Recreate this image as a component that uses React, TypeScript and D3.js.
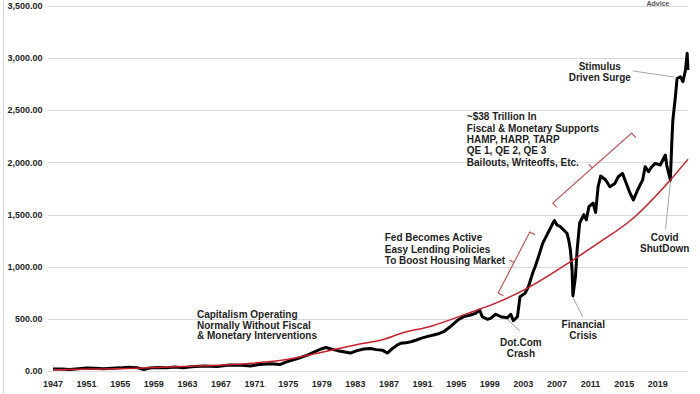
import React from 'react';
import * as d3 from 'd3';

const W = 700;
const H = 394;

const yTicks = [0, 500, 1000, 1500, 2000, 2500, 3000, 3500];
const xTickYears = [1947, 1951, 1955, 1959, 1963, 1967, 1971, 1975, 1979, 1983, 1987, 1991, 1995, 1999, 2003, 2007, 2011, 2015, 2019];

const seriesYears = [
  1947.0, 1948.0, 1949.0, 1950.0, 1951.0, 1952.0, 1953.0, 1954.0, 1955.0, 1956.0, 1957.0, 1957.8, 1958.5, 1959.5,
  1960.5, 1961.5, 1962.5, 1963.5, 1965.0, 1966.5, 1968.0, 1969.5, 1970.5, 1971.5, 1973.0, 1974.0, 1974.8, 1975.5,
  1976.5, 1977.3, 1978.2, 1978.9, 1979.5, 1980.1, 1980.9, 1981.6, 1982.4, 1983.2, 1984.0, 1984.8, 1985.5, 1986.2,
  1986.8, 1987.4, 1988.0, 1988.4, 1989.0, 1989.6, 1990.2, 1990.8, 1991.5, 1992.3, 1993.0, 1993.5, 1994.3, 1995.2,
  1995.9, 1996.7, 1997.3, 1997.8, 1998.1, 1998.7, 1999.1, 1999.7, 2000.3, 2001.1, 2001.5, 2001.8, 2002.3, 2002.6,
  2003.2, 2003.6, 2004.1, 2004.4, 2004.8, 2005.3, 2005.9, 2006.5, 2006.7, 2007.0, 2007.4, 2007.8, 2008.2, 2008.4,
  2008.6, 2008.8, 2008.9, 2009.2, 2009.4, 2009.7, 2010.2, 2010.5, 2010.8, 2011.3, 2011.6, 2011.9, 2012.2, 2012.8,
  2013.3, 2013.9, 2014.3, 2014.8, 2015.1, 2015.7, 2016.1, 2016.6, 2017.2, 2017.5, 2017.9, 2018.3, 2018.7, 2019.3,
  2019.9, 2020.1, 2020.5, 2020.7, 2020.8, 2021.1, 2021.3, 2021.7, 2022.0, 2022.3, 2022.5, 2022.6,
];
const seriesValues = [
  18, 20, 14, 22, 28, 26, 22, 27, 30, 36, 32, 15, 28, 34,
  30, 38, 30, 40, 48, 42, 58, 55, 48, 62, 70, 62, 88, 105,
  130, 153, 185, 211, 225, 211, 195, 185, 172, 195, 211, 215, 205, 200,
  172, 215, 250, 265, 270, 281, 295, 313, 330, 345, 360, 377, 425, 489,
  521, 537, 553, 585, 521, 496, 505, 544, 521, 511, 544, 482, 521, 713,
  745, 808, 937, 1000, 1096, 1224, 1320, 1416, 1442, 1400, 1384, 1352, 1320, 1256,
  1160, 968, 722, 904, 1160, 1419, 1500, 1450, 1575, 1610, 1520, 1767, 1870, 1832,
  1767, 1799, 1863, 1895, 1832, 1704, 1640, 1736, 1832, 1959, 1911, 1959, 1991, 1975,
  2071, 1959, 1832, 2247, 2407, 2631, 2805, 2821, 2774, 2886, 3046, 2886,
];

const trendYears = [1947, 1952, 1956, 1960, 1965, 1970, 1975, 1979, 1983, 1986.4, 1988.4, 1992, 1996.3, 2000, 2003.6, 2008.9, 2012, 2016, 2020.5, 2022.6];
const trendValues = [12, 18, 25, 35, 50, 70, 112, 180, 250, 304, 360, 430, 550, 660, 800, 1064, 1230, 1460, 1832, 2030];

type Note = { lines: string[]; year: number; value: number; anchor: 'start' | 'middle'; lh: number };
const notes: Note[] = [
  { lines: ['Capitalism Operating', 'Normally Without Fiscal', '& Monetary Interventions'], year: 1964.14, value: 508, anchor: 'start', lh: 10.5 },
  { lines: ['Fed Becomes Active', 'Easy Lending Policies', 'To Boost Housing Market'], year: 1986.5, value: 1245, anchor: 'start', lh: 11.5 },
  { lines: ['~$38 Trillion In', 'Fiscal & Monetary Supports', 'HAMP, HARP, TARP', 'QE 1, QE 2, QE 3', 'Bailouts, Writeoffs, Etc.'], year: 1996.27, value: 2405, anchor: 'start', lh: 11.4 },
  { lines: ['Stimulus', 'Driven Surge'], year: 2012.1, value: 2891, anchor: 'middle', lh: 11.7 },
  { lines: ['Covid', 'ShutDown'], year: 2019.83, value: 1251, anchor: 'middle', lh: 11 },
  { lines: ['Financial', 'Crisis'], year: 2010.13, value: 417, anchor: 'middle', lh: 11 },
  { lines: ['Dot.Com', 'Crash'], year: 2002.7, value: 238, anchor: 'middle', lh: 10.5 },
];

const leaders: [number, number, number, number][] = [
  [2016.02, 2877, 2021.0, 2819],
  [2020.53, 1831, 2019.93, 1362],
  [2008.88, 710, 2010.07, 518],
  [2000.79, 518, 2002.58, 384],
];

const brackets: [number, number, number, number][] = [
  [2000.0, 748, 2003.77, 1333],
  [2006.5, 1611, 2015.9, 2282],
];

const FONT = '"Liberation Sans", Arial, Helvetica, sans-serif';

function bracketPath(x1: number, y1: number, x2: number, y2: number, tick = 6, notch = 5) {
  const dx = x2 - x1, dy = y2 - y1;
  const L = Math.hypot(dx, dy);
  const ux = dx / L, uy = dy / L;
  const nx = -uy, ny = ux;
  const mx = (x1 + x2) / 2, my = (y1 + y2) / 2;
  return `M${x1 + nx * tick},${y1 + ny * tick}L${x1},${y1}L${mx},${my}L${mx - nx * notch},${my - ny * notch}M${mx},${my}L${x2},${y2}L${x2 + nx * tick},${y2 + ny * tick}`;
}

export default function App() {
  const x = d3.scaleLinear().domain([1947, 2022.6]).range([53, 688]);
  const y = d3.scaleLinear().domain([0, 3500]).range([371, 6]);

  const line = d3.line<[number, number]>().x(d => x(d[0])).y(d => y(d[1]));
  const trendLine = d3.line<[number, number]>().x(d => x(d[0])).y(d => y(d[1])).curve(d3.curveMonotoneX);

  const series: [number, number][] = seriesYears.map((yr, i) => [yr, seriesValues[i]]);
  const trend: [number, number][] = trendYears.map((yr, i) => [yr, trendValues[i]]);

  return (
    <svg width={W} height={H} style={{ position: 'absolute', left: 0, top: 0, background: '#fff' }} fontFamily={FONT}>
      <rect x={0} y={0} width={W} height={H} fill="#fff" />
      <line x1={3.5} x2={3.5} y1={0} y2={H} stroke="#d4d4d4" strokeWidth={1} />
      {yTicks.map(t => (
        <g key={t}>
          <line x1={48} x2={688} y1={Math.round(y(t)) + 0.5} y2={Math.round(y(t)) + 0.5} stroke="#dcdcdc" strokeWidth={1} />
          <text x={42.5} y={y(t) + 3.2} textAnchor="end" fontSize={9} fontWeight="bold" fill="#262626">
            {d3.format(',.2f')(t)}
          </text>
        </g>
      ))}
      {xTickYears.map(yr => (
        <text key={yr} x={x(yr)} y={386.5} textAnchor="middle" fontSize={9} fontWeight="bold" fill="#262626">
          {yr}
        </text>
      ))}
      <text x={658} y={6} textAnchor="middle" fontSize={7} fontWeight="bold" fill="#555">Advice</text>

      {leaders.map((l, i) => (
        <line key={i} x1={x(l[0])} y1={y(l[1])} x2={x(l[2])} y2={y(l[3])} stroke="#a6a6a6" strokeWidth={1} />
      ))}
      {brackets.map((b, i) => (
        <path key={i} d={bracketPath(x(b[0]), y(b[1]), x(b[2]), y(b[3]))} fill="none" stroke="#c0504d" strokeWidth={1.1} />
      ))}

      <path d={line(series) || ''} fill="none" stroke="#000" strokeWidth={3} strokeLinejoin="round" />
      <path d={trendLine(trend) || ''} fill="none" stroke="#c8202a" strokeWidth={1.5} />

      {notes.map((n, i) => (
        <text key={i} x={x(n.year)} y={y(n.value)} textAnchor={n.anchor} fontSize={10} fontWeight="bold" fill="#1e1e1e">
          {n.lines.map((s, j) => (
            <tspan key={j} x={x(n.year)} y={y(n.value) + j * n.lh}>{s}</tspan>
          ))}
        </text>
      ))}
    </svg>
  );
}
